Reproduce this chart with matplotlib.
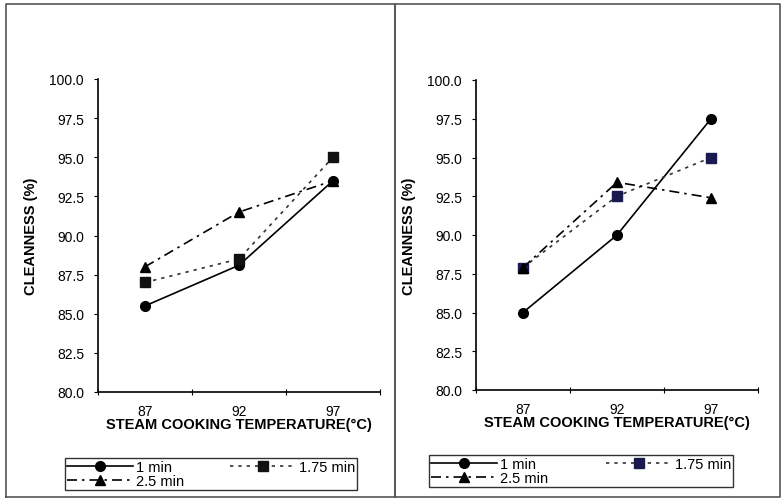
import matplotlib
matplotlib.use("Agg")
import matplotlib.pyplot as plt
from matplotlib.lines import Line2D

plt.rcParams['font.family'] = ['Liberation Sans', 'DejaVu Sans']

temps = ["87", "92", "97"]
series_names = ["1 min", "1.75 min", "2.5 min"]
left_1min = [85.5, 88.1, 93.5]
left_175min = [87.0, 88.5, 95.0]
left_25min = [88.0, 91.5, 93.5]
right_1min = [85.0, 90.0, 97.5]
right_175min = [87.9, 92.5, 95.0]
right_25min = [87.9, 93.4, 92.4]
yticks = [80.0, 82.5, 85.0, 87.5, 90.0, 92.5, 95.0, 97.5, 100.0]

fig = plt.figure(figsize=(7.82, 5.02), dpi=100)

# panel frames
for (x0, x1) in [(6 / 782, 395 / 782), (395 / 782, 780 / 782)]:
    y0, y1 = 1 - 498 / 502, 1 - 5 / 502
    fig.add_artist(Line2D([x0, x1, x1, x0, x0], [y0, y0, y1, y1, y0],
                          transform=fig.transFigure, color='#555555', lw=1.2))

styles = [
    dict(color='black', ls='-', marker='o', ms=7, lw=1.2),
    dict(color='#333333', ls=(0, (2, 3)), marker='s', ms=7, lw=1.2),
    dict(color='black', ls=(0, (6, 3, 1.5, 3)), marker='^', ms=7, lw=1.2),
]

def make_panel(rect, data, legend_rect, sq_color):
    ax = fig.add_axes(rect)
    xs = list(range(len(temps)))
    handles = []
    for i, (vals, st) in enumerate(zip(data, styles)):
        st = dict(st)
        mfc = st['color']
        if i == 1:
            mfc = sq_color
        h, = ax.plot(xs, vals, markerfacecolor=mfc, markeredgecolor=mfc,
                     label=series_names[i], **st)
        handles.append(h)
    ax.set_xlim(-0.5, 2.5)
    ax.set_ylim(80, 100)
    ax.set_yticks(yticks)
    ax.set_yticklabels([f"{v:.1f}" for v in yticks], fontsize=10)
    ax.set_xticks([-0.5, 0.5, 1.5, 2.5])
    ax.set_xticklabels([])
    ax.set_xticks(xs, minor=True)
    ax.set_xticklabels(temps, minor=True, fontsize=10)
    ax.tick_params(axis='x', which='minor', length=0, pad=9)
    ax.tick_params(axis='x', which='major', length=4, direction='inout', width=0.8)
    ax.tick_params(axis='y', length=3, direction='out', width=0.8, pad=7)
    for s in ['top', 'right']:
        ax.spines[s].set_visible(False)
    for s in ['left', 'bottom']:
        ax.spines[s].set_linewidth(1.2)
    ax.set_ylabel("CLEANNESS (%)", fontsize=10.5, fontweight='bold', labelpad=8)
    ax.set_xlabel("STEAM COOKING TEMPERATURE(°C)", fontsize=10.5, fontweight='bold', labelpad=-1)
    order = [handles[0], handles[2], handles[1]]
    leg = fig.legend(order, [h.get_label() for h in order], ncol=2,
                     bbox_to_anchor=legend_rect, bbox_transform=fig.transFigure,
                     loc='center', mode='expand', fontsize=10.5, handlelength=4.5,
                     frameon=True, fancybox=False, edgecolor='black',
                     borderpad=0.15, labelspacing=0.0, handletextpad=0.2,
                     columnspacing=1.0, borderaxespad=0)
    leg.get_frame().set_linewidth(1.0)
    return ax

make_panel([98 / 782, 1 - 393 / 502, 282 / 782, 313 / 502],
           [left_1min, left_175min, left_25min],
           (65 / 782, 1 - 492 / 502, 292 / 782, 34 / 502), '#111111')
make_panel([476 / 782, 1 - 391 / 502, 282 / 782, 310 / 502],
           [right_1min, right_175min, right_25min],
           (429 / 782, 1 - 490 / 502, 304 / 782, 36 / 502), '#1a1a50')

fig.savefig("out.png", dpi=100)
